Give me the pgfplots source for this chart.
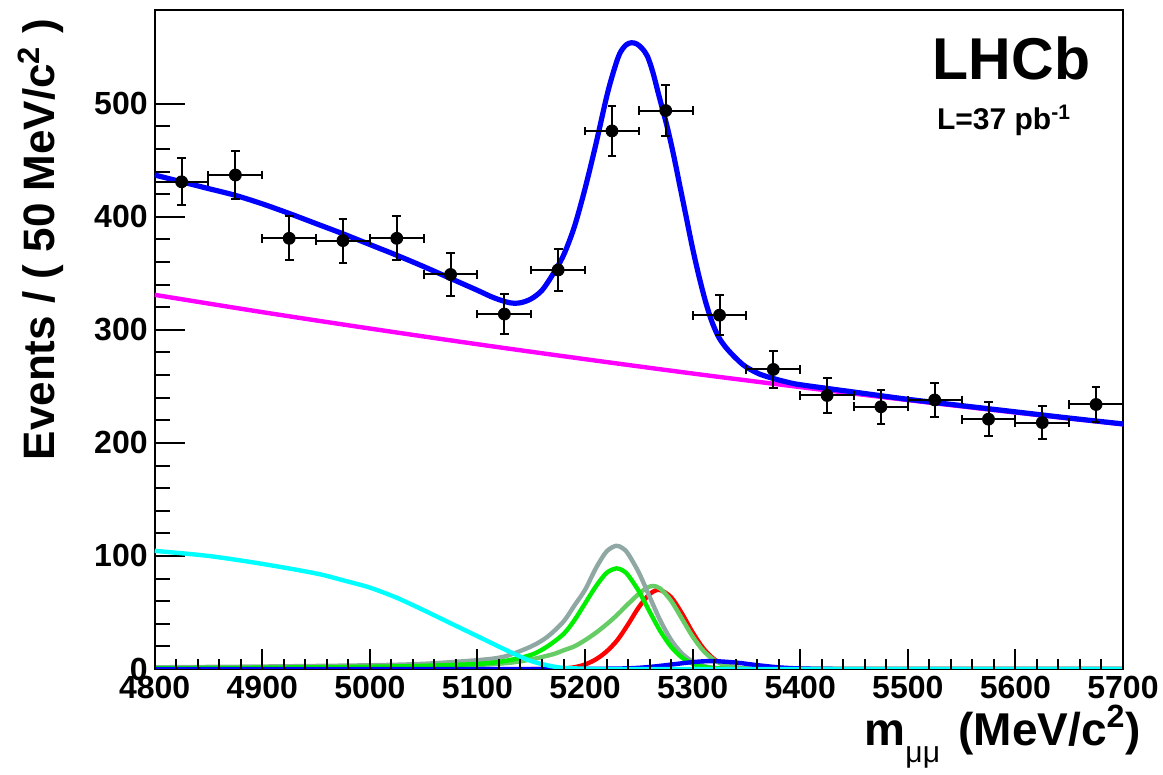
\documentclass[border=0pt]{standalone}
\usepackage{fontspec}
\setmainfont{Liberation Sans}
\usepackage{pgfplots}
\usepackage{pgfplotstable}
\pgfplotsset{compat=1.18}
\definecolor{rgray}{RGB}{143,168,163}
\definecolor{lgreen}{RGB}{102,204,102}
\definecolor{bgreen}{RGB}{0,238,0}
\definecolor{rcyan}{RGB}{0,255,255}
\definecolor{rmagenta}{RGB}{255,0,255}
\definecolor{rblue}{RGB}{0,0,255}
\definecolor{rred}{RGB}{255,0,0}

\pgfplotstableread{
x ex y ey
4825 25 431 20.7
4875 25 437 20.9
4925 25 381 19.5
4975 25 379 19.5
5025 25 381 19.5
5075 25 349 18.7
5125 25 314 17.7
5175 25 353 18.8
5225 25 476 21.8
5275 25 494 22.2
5325 25 313 17.7
5375 25 265 16.3
5425 25 242 15.6
5475 25 232 15.2
5525 25 238 15.4
5575 25 221 14.9
5625 25 218 14.8
5675 25 234 15.3
}\datapts

\pgfplotstableread{
x y
4800 437
4825 431
4850 425
4875 419
4900 411.5
4925 403
4950 394
4975 385
5000 375.5
5025 366
5050 356
5075 345.5
5100 335
5115 328.5
5130 324
5140 324
5150 327.5
5160 335
5170 349
5180 366
5190 391
5200 425
5210 464
5220 506
5226 527
5232 544
5238 552
5243 554
5248 553
5253 549
5258 542
5263 528
5269 506
5276 481
5282 456
5288 428
5294 400
5300 372
5306 347
5312 325
5318 307
5324 294
5330 285.5
5337 278
5344 271.5
5350 267
5362 261
5375 257
5387 254
5400 251.5
5450 245
5500 238.6
5550 233
5600 227.5
5650 222
5700 216.8
}\total

\pgfplotstableread{
x y
4800 331
4900 315.7
5000 301.2
5100 287.3
5200 274.1
5300 261.4
5400 249.4
5500 237.9
5600 226.9
5700 216.5
}\comb

\pgfplotstableread{
x y
4800 104.5
4850 100
4900 93
4950 84.5
4975 78.5
5000 72
5025 63
5050 52
5075 40.5
5100 29
5125 17.5
5150 7
5175 1.5
5200 0.3
5225 0
5400 0
5700 0
}\partreco

\pgfplotstableread{
x y
4800 1.5
4900 2.2
5000 3.3
5050 4.6
5100 7.8
5125 11
5150 20
5165 28.5
5180 42
5190 56
5200 70
5210 89
5220 104
5229 109
5235 106.8
5240 101.9
5250 85.3
5260 63.9
5270 42.8
5280 25.7
5290 13.8
5300 6.6
5310 2.8
5320 1.1
5340 0.1
5360 0
5700 0
}\graycomp

\pgfplotstableread{
x y
4800 0.8
4900 1.2
5000 2
5050 2.8
5100 4.5
5125 7
5150 12.5
5165 20
5180 31
5190 43
5200 58
5210 73
5220 85
5229 89
5235 87.2
5240 83
5250 68.8
5260 50.8
5270 33.4
5280 19.6
5290 10.2
5300 4.7
5310 1.95
5320 0.7
5340 0.05
5360 0
5700 0
}\greencomp

\pgfplotstableread{
x y
4800 1.0
4900 1.4
5000 2.0
5050 2.6
5100 3.6
5130 5.5
5150 8.5
5170 13
5180 16.5
5190 20
5200 25.5
5210 32
5220 39.5
5230 48
5240 57.5
5250 66.5
5257 71.5
5263 73.5
5270 71.1
5280 60.3
5290 44.6
5300 28.7
5310 16.1
5320 7.9
5330 3.4
5340 1.3
5350 0.4
5370 0.03
5400 0
5700 0
}\lgreencomp

\pgfplotstableread{
x y
5150 0
5170 0.1
5180 0.4
5190 1.5
5200 4
5210 8.5
5220 15.5
5230 25.5
5240 39.5
5250 54.7
5260 66.2
5269 70
5280 63.5
5290 49.2
5300 32.4
5310 18.2
5320 8.7
5330 3.6
5340 1.25
5350 0.37
5370 0.04
5400 0
5700 0
}\redcomp

\pgfplotstableread{
x y
4800 0
5150 0
5200 0.05
5240 0.6
5260 1.8
5280 3.9
5300 6.1
5318 7
5340 5.7
5360 3.4
5380 1.46
5400 0.45
5430 0.04
5460 0
5700 0
}\bluecomp

\begin{document}
\begin{tikzpicture}
\pgfplotsset{
  common/.style={
    scale only axis, width=484.15pt, height=329.5pt,
    xmin=4800, xmax=5700, ymin=0, ymax=583,
    axis line style={line width=1pt},
    tick pos=left, tick align=inside,
    every tick/.style={black, line width=1pt},
    /pgf/number format/assume math mode=true,
    /pgf/number format/1000 sep={},
    ticklabel style={font=\bfseries\fontsize{16}{16}\selectfont},
  }
}
\begin{axis}[common,
  xtick=\empty,
  ytick={0,100,...,500},
  minor y tick num=4,
  major tick length=15pt, minor tick length=7.5pt,
  every axis plot/.append style={line join=round},
]
\addplot[rmagenta, line width=2.2pt, smooth] table[x=x,y=y] {\comb};
\addplot[rred, line width=2.2pt, smooth] table[x=x,y=y] {\redcomp};
\addplot[lgreen, line width=2.2pt, smooth] table[x=x,y=y] {\lgreencomp};
\addplot[rgray, line width=2.2pt, smooth] table[x=x,y=y] {\graycomp};
\addplot[bgreen, line width=2.2pt, smooth] table[x=x,y=y] {\greencomp};
\addplot[rblue, line width=2.2pt, smooth] table[x=x,y=y] {\bluecomp};
\addplot[rcyan, line width=2.2pt, smooth] table[x=x,y=y] {\partreco};
\addplot[rblue, line width=2.6pt, smooth] table[x=x,y=y] {\total};
\addplot[only marks, mark=*, mark size=3pt, black,
  error bars/.cd, x dir=both, x explicit, y dir=both, y explicit,
  error mark=-,
  error bar style={line width=1pt, black},
  error mark options={rotate=90, line width=1pt, mark size=2.2pt, black}]
  table[x=x, y=y, x error=ex, y error=ey] {\datapts};
\end{axis}
\begin{axis}[common,
  ytick=\empty,
  xtick={4800,4900,...,5700},
  minor x tick num=4,
  major tick length=10pt, minor tick length=5pt,
  axis line style={draw=none},
]
\end{axis}
\node[rotate=90, anchor=base east, font=\bfseries\fontsize{22}{22}\selectfont]
  at (-49.85pt, 328.5pt) {Events / ( 50 MeV/c\textsuperscript{2} )};
\node[anchor=base east, font=\bfseries\fontsize{23}{23}\selectfont]
  at (496.65pt, -38.5pt) {m\raisebox{-0.35em}{\fontsize{15}{15}\selectfont\mdseries μμ}\hspace{0.4em}(MeV/c\textsuperscript{2})};
\node[anchor=base, font=\bfseries\fontsize{29.5}{29.5}\selectfont] at (428.4pt, 294.5pt) {LHCb};
\node[anchor=base, font=\bfseries\fontsize{15}{15}\selectfont] at (424.65pt, 269.5pt) {L=37 pb\textsuperscript{-1}};
\pgfresetboundingbox
\path (-77.35pt,-53pt) rectangle (504.15pt,334.5pt);
\end{tikzpicture}
\end{document}
